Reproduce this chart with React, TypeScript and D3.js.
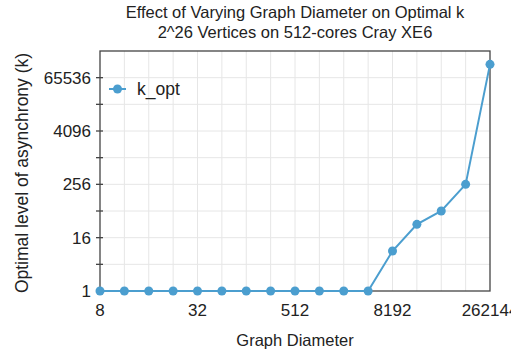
import React from "react";
import * as d3 from "d3";

const diameterIndex = [0, 1, 2, 3, 4, 5, 6, 7, 8, 9, 10, 11, 12, 13, 14, 15, 16];
const kOpt = [1, 1, 1, 1, 1, 1, 1, 1, 1, 1, 1, 1, 8, 32, 64, 256, 131072];
const xTickIndex = [0, 4, 8, 12, 16];
const xTickLabels = ["8", "32", "512", "8192", "262144"];
const yTickValues = [1, 16, 256, 4096, 65536];
const yMinorValues = [4, 64, 1024, 16384];
const yGridValues = [4, 16, 64, 256, 1024, 4096, 16384, 65536];
const seriesName = "k_opt";

const W = 511;
const H = 354;
const L = 100, R = 490, T = 51, B = 291;
const color = "#4b9ecf";
const font = "'Liberation Sans', Arial, Helvetica, sans-serif";

export default function App() {
  const x = d3.scaleLinear().domain([0, 16]).range([L, R]);
  const y = d3.scaleLog().base(2).domain([1, Math.pow(2, 18)]).range([B, T]);
  const line = d3
    .line<number>()
    .x((_, i) => x(diameterIndex[i]))
    .y((d) => y(d));

  return (
    <svg
      width={W}
      height={H}
      style={{ position: "absolute", left: 0, top: 0 }}
      fontFamily={font}
    >
      <rect x={0} y={0} width={W} height={H} fill="#fff" />
      {/* grid */}
      {diameterIndex.slice(1, -1).map((d) => (
        <line key={"gx" + d} x1={x(d)} x2={x(d)} y1={T} y2={B} stroke="#e6e6e6" strokeWidth={1} />
      ))}
      {yGridValues.map((v) => (
        <line key={"gy" + v} x1={L} x2={R} y1={y(v)} y2={y(v)} stroke="#e6e6e6" strokeWidth={1} />
      ))}
      {/* frame */}
      <rect x={L} y={T} width={R - L} height={B - T} fill="none" stroke="#444" strokeWidth={1.3} />
      {/* y ticks */}
      {[...yTickValues, ...yMinorValues].map((v) => (
        <line key={"yt" + v} x1={L - 4} x2={L + 3} y1={y(v)} y2={y(v)} stroke="#444" strokeWidth={1.3} />
      ))}
      {yTickValues.map((v) => (
        <text key={"yl" + v} x={91} y={y(v)} dy="0.36em" textAnchor="end" fontSize={17} fill="#222">
          {v}
        </text>
      ))}
      {xTickIndex.map((d, i) => (
        <text key={"xl" + d} x={x(d)} y={316} textAnchor="middle" fontSize={17} fill="#222">
          {xTickLabels[i]}
        </text>
      ))}
      {/* series */}
      <path d={line(kOpt) || ""} fill="none" stroke={color} strokeWidth={2} />
      {kOpt.map((v, i) => (
        <circle key={"p" + i} cx={x(diameterIndex[i])} cy={y(v)} r={4.5} fill={color} />
      ))}
      {/* legend */}
      <line x1={109} x2={126} y1={89} y2={89} stroke={color} strokeWidth={2} />
      <circle cx={117.5} cy={89} r={4.5} fill={color} />
      <text x={137} y={95} fontSize={17.5} fill="#222">{seriesName}</text>
      {/* titles */}
      <text x={295} y={18} textAnchor="middle" fontSize={16.5} fill="#222">
        Effect of Varying Graph Diameter on Optimal k
      </text>
      <text x={295} y={38} textAnchor="middle" fontSize={16.5} fill="#222">
        2^26 Vertices on 512-cores Cray XE6
      </text>
      <text x={295} y={346} textAnchor="middle" fontSize={16.5} fill="#222">
        Graph Diameter
      </text>
      <text
        transform={`translate(28, 173) rotate(-90)`}
        textAnchor="middle"
        fontSize={17.5}
        fill="#222"
      >
        Optimal level of asynchrony (k)
      </text>
    </svg>
  );
}
